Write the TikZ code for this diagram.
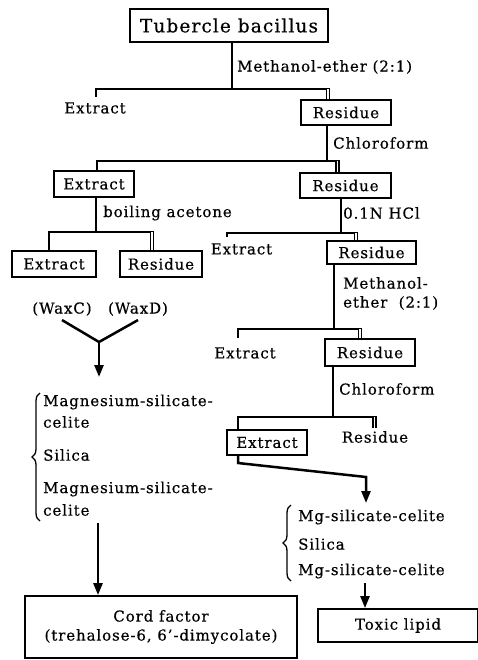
\documentclass[tikz,border=0pt]{standalone}
\usepackage{fontspec}
\setmainfont[LetterSpace=6,FakeBold=0.5]{DejaVu Serif}
\usetikzlibrary{arrows.meta,decorations.pathreplacing}
\begin{document}
\begin{tikzpicture}[x=1pt,y=-1pt,
  txt/.style={font=\fontsize{15}{19}\selectfont, inner sep=0pt},
  lbl/.style={txt, anchor=west},
  box/.style={txt, draw, line width=1.8pt},
  ln/.style={line width=2.5pt},
  dbl/.style={draw, double, line width=1.4pt, double distance=1.7pt},
  arr/.style={line width=2.5pt, -{Triangle[length=12pt,width=9pt]}},
  brc/.style={decorate, decoration={brace, amplitude=8pt}, line width=1.3pt}
]
\useasboundingbox (0,0) rectangle (477,660);

% top
\node[box, minimum width=198pt, minimum height=33pt, font=\fontsize{18.5}{22}\selectfont] (tb) at (229,25.5) {Tubercle bacillus};
\coordinate (j1) at (232,89);
\draw[ln] (tb.south -| j1) -- (j1);
\node[lbl] (l1) at (237,67) {Methanol-ether (2:1)};
\node[txt] (ex1) at (95,108) {Extract};
\node[box, minimum width=90pt, minimum height=25pt] (re1) at (346,112.5) {Residue};
\coordinate (d1) at (328,89);
\coordinate (e1) at (330.2,89);
\draw[ln] (e1) -| ([xshift=1pt,yshift=5pt]ex1.north);
\draw[dbl] (d1) -- (re1.north -| d1);

% branch 2
\coordinate (j2) at (327,161);
\draw[ln] (re1.south -| j2) -- (j2);
\node[lbl] (l2) at (333,143) {Chloroform};
\node[box, minimum width=80pt, minimum height=26pt] (ex2) at (94,184) {Extract};
\node[box, minimum width=91pt, minimum height=25pt] (re2) at (345.5,185.5) {Residue};
\coordinate (d2) at (337.5,161);
\coordinate (e2) at (339.7,161);
\draw[ln] (e2) -| ([xshift=3pt]ex2.north);
\draw[dbl] (d2) -- (re2.north -| d2);

% branch 3 (left)
\coordinate (j3) at (96,232);
\draw[ln] (ex2.south -| j3) -- (j3);
\node[lbl] (l3) at (103,213) {boiling acetone};
\node[box, minimum width=84pt, minimum height=26pt] (ex3) at (54,264) {Extract};
\node[box, minimum width=82pt, minimum height=26pt] (rs3) at (161,264) {Residue};
\coordinate (d3) at (152,232);
\coordinate (e3) at (154.2,232);
\draw[ln] (e3) -| ([xshift=-5pt]ex3.north);
\draw[dbl] (d3) -- (rs3.north -| d3);

% branch 4 (right)
\coordinate (j4) at (341,233);
\draw[ln] (re2.south -| j4) -- (j4);
\node[lbl] (l4) at (343,213) {0.1N HCl};
\node[txt] (ex4) at (241.5,249) {Extract};
\node[box, minimum width=89pt, minimum height=23pt] (rr3) at (371.5,252.5) {Residue};
\coordinate (d4) at (356,233);
\coordinate (e4) at (358.2,233);
\draw[ln] (e4) -| ([xshift=-14.5pt,yshift=6pt]ex4.north);
\draw[dbl] (d4) -- (rr3.north -| d4);

% branch 5
\coordinate (j5) at (334,329);
\draw[ln] (rr3.south -| j5) -- (j5);
\node[lbl] (l5a) at (343,283) {Methanol-};
\node[lbl] (l5b) at (343,303) {ether\ \ (2:1)};
\node[txt] (ex5) at (245,353) {Extract};
\node[box, minimum width=90pt, minimum height=27pt] (rr4) at (370,352.5) {Residue};
\coordinate (d5) at (360,329);
\coordinate (e5) at (362.2,329);
\draw[ln] (e5) -| ([xshift=-7pt,yshift=9pt]ex5.north);
\draw[dbl] (d5) -- (rr4.north -| d5);

% branch 6
\coordinate (j6) at (333,417);
\draw[ln] (rr4.south -| j6) -- (j6);
\node[lbl] (l6) at (339,389) {Chloroform};
\node[box, minimum width=80pt, minimum height=25pt] (ex6) at (267,442.5) {Extract};
\node[txt] (rs6) at (375,437) {Residue};
\coordinate (d6) at (374.5,417);
\coordinate (e6) at (376.7,417);
\draw[ln] (e6) -| ([xshift=-29pt]ex6.north);
\draw[dbl] (d6) -- ([yshift=3pt]rs6.north -| d6);

% right column purification
\coordinate (k1) at (238,463);
\coordinate (k2) at (366,477);
\coordinate (k3) at (366,503);
\draw[arr] ([xshift=-29pt]ex6.south) -- (k1) -- (k2) -- (k3);
\node[lbl] (mg1) at (298,517) {Mg-silicate-celite};
\node[lbl] (mg2) at (298,544) {Silica};
\node[lbl] (mg3) at (298,571) {Mg-silicate-celite};
\coordinate (b2a) at (291,581);
\coordinate (b2b) at (291,505);
\draw[brc] (b2a) -- (b2b);
\node[box, minimum width=160pt, minimum height=33pt] (tl) at (398,625.5) {Toxic lipid};
\coordinate (k4) at (365,583);
\draw[arr] (k4) -- (tl.north -| k4);

% left column purification
\node[txt] (wc) at (62,309) {(WaxC)};
\node[txt] (wd) at (138,309) {(WaxD)};
\coordinate (yj) at (99,342);
\coordinate (k5) at (99,377);
\draw[ln] ([yshift=-4pt]wc.south) -- (yj) -- ([yshift=-4pt]wd.south);
\draw[arr] (yj) -- (k5);
\node[lbl] (ma1) at (43,402) {Magnesium-silicate-};
\node[lbl] (ma2) at (43,422) {celite};
\node[lbl] (ma3) at (43,455) {Silica};
\node[lbl] (ma4) at (43,489) {Magnesium-silicate-};
\node[lbl] (ma5) at (43,510) {celite};
\coordinate (b1a) at (40,521);
\coordinate (b1b) at (40,393);
\draw[brc] (b1a) -- (b1b);
\node[box, minimum width=272pt, minimum height=62pt, align=center] (cf) at (161,627) {Cord factor\\(trehalose-6, 6'-dimycolate)};
\coordinate (k6) at (98,523);
\draw[arr] (k6) -- (cf.north -| k6);
\end{tikzpicture}
\end{document}
